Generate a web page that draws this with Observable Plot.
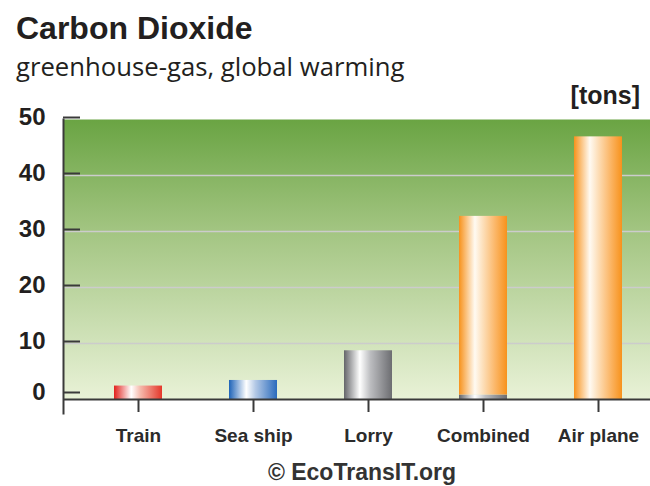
<!DOCTYPE html>
<html><head><meta charset="utf-8">
<script src="https://cdn.jsdelivr.net/npm/d3@7"></script>
<script src="https://cdn.jsdelivr.net/npm/@observablehq/plot@0.6"></script>
<style>
html,body{margin:0;padding:0;background:#fff;}
#wrap{position:relative;width:650px;height:486px;overflow:hidden;}
.t{position:absolute;white-space:nowrap;line-height:1;}
#title{left:16px;top:10px;font:bold 32px "Liberation Sans",Arial,sans-serif;color:#231f20;}
#subtitle{left:16px;top:49px;font:25.7px "Open Sans",sans-serif;color:#231f20;}
#unit{right:10px;top:81px;font:bold 25px "Liberation Sans",Arial,sans-serif;color:#231f20;}
#credit{left:0;width:724px;text-align:center;top:459px;font:bold 23px "Liberation Sans",Arial,sans-serif;color:#333;}
#chart{position:absolute;left:0;top:0;}
</style></head>
<body><div id="wrap">
<div id="chart"></div>
<div class="t" id="title">Carbon Dioxide</div>
<div class="t" id="subtitle">greenhouse-gas, global warming</div>
<div class="t" id="unit">[tons]</div>
<div class="t" id="credit">© EcoTransIT.org</div>
</div>
<script>
// categories and values (tons CO2)
const modes = ["Train", "Sea ship", "Lorry", "Combined", "Air plane"];
const segMode = ["Train", "Sea ship", "Lorry", "Combined", "Combined", "Air plane"];
const segPart = ["rail", "ship", "road", "road", "air", "air"];
const segValue = [2.4, 3.4, 8.7, 0.8, 31.9, 46.9];
const yTicks = [10, 20, 30, 40, 50];
const yZero = [0];
const gridTicks = [10, 20, 30, 40];

const data = segMode.map((m, i) => ({mode: m, part: segPart[i], value: segValue[i]}));

const gradients = {
  rail: [[0, "#e2211c"], [0.36, "#ffffff"], [0.55, "#f5b9ab"], [1, "#e5372a"]],
  ship: [[0, "#1e63b8"], [0.36, "#ffffff"], [0.55, "#b4c9e6"], [1, "#2a6bbd"]],
  road: [[0, "#646569"], [0.33, "#ffffff"], [0.55, "#bcbdc0"], [1, "#6c6d71"]],
  air:  [[0, "#f7921c"], [0.33, "#fffaf2"], [0.48, "#fde2c0"], [0.75, "#fbb769"], [1, "#f7921c"]]
};

function defs() {
  const d = d3.create("svg:defs");
  const bg = d.append("linearGradient").attr("id", "bg").attr("x1", 0).attr("y1", 0).attr("x2", 0).attr("y2", 1);
  [[0, "#6aa443"], [0.4, "#a3c582"], [1, "#e9f2d7"]].forEach(([o, c]) => bg.append("stop").attr("offset", o).attr("stop-color", c));
  for (const [k, stops] of Object.entries(gradients)) {
    const g = d.append("linearGradient").attr("id", "g-" + k).attr("x1", 0).attr("x2", 1).attr("y1", 0).attr("y2", 0);
    for (const [o, c] of stops) g.append("stop").attr("offset", o).attr("stop-color", c);
  }
  return d.node();
}

const axisText = {fontSize: 24, fontWeight: "bold", fill: "#231f20", stroke: "#3a3a3a", strokeWidth: 2, tickSize: -17, tickPadding: 35, label: null};

const plot = Plot.plot({
  width: 650, height: 486,
  marginTop: 119, marginBottom: 87, marginLeft: 63, marginRight: 0,
  style: {fontFamily: '"Liberation Sans", Arial, sans-serif', background: "transparent", overflow: "visible"},
  x: {type: "band", domain: modes, range: [79, 658], paddingInner: 0.58, paddingOuter: 0.29, label: null},
  y: {domain: [0, 50], label: null},
  color: {type: "identity"},
  marks: [
    defs,
    Plot.frame({fill: "url(#bg)", stroke: null}),
    Plot.gridY(gridTicks, {stroke: "#cccccc", strokeOpacity: 1, strokeWidth: 1.5}),
    Plot.barY(data, {x: "mode", y: "value", fill: d => `url(#g-${d.part})`}),
    Plot.ruleY([0], {stroke: "#3a3a3a", strokeWidth: 2}),
    Plot.frame({anchor: "left", insetBottom: -14, stroke: "#3a3a3a", strokeWidth: 2}),
    Plot.axisY(yTicks, {...axisText, dy: -2}),
    Plot.axisY(yZero, {...axisText, dy: -7}),
    Plot.axisX({tickSize: 13, tickPadding: 16, fontSize: 19, fontWeight: "bold", fill: "#2b2b2b", stroke: "#3a3a3a", strokeWidth: 2, label: null})
  ]
});
document.getElementById("chart").append(plot);
</script>
</body></html>
